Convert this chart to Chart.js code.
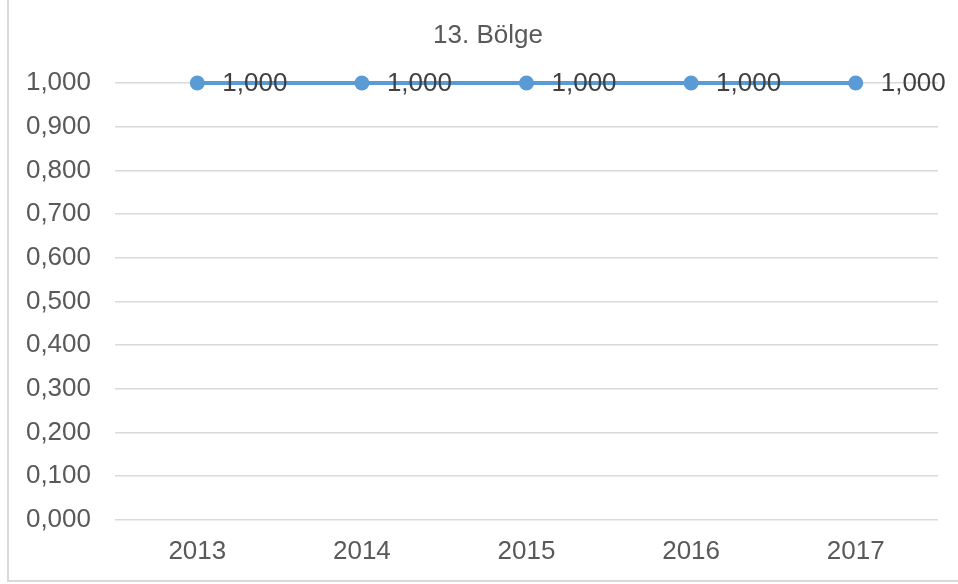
<!DOCTYPE html>
<html>
<head>
<meta charset="utf-8">
<script src="https://cdn.jsdelivr.net/npm/chart.js@4.4.1/dist/chart.umd.min.js"></script>
<style>
  html,body{margin:0;padding:0;background:#fff;}
  #wrap{position:relative;width:958px;height:584px;overflow:hidden;}
  #frame{position:absolute;left:7px;top:-3px;width:960px;height:585px;border:2px solid #d9d9d9;box-sizing:border-box;}
  #c{position:absolute;left:0;top:0;}
</style>
</head>
<body>
<div id="wrap">
  <div id="frame"></div>
  <canvas id="c" width="958" height="584"></canvas>
</div>
<script>
const years = ['2013','2014','2015','2016','2017'];
const values = [1.000, 1.000, 1.000, 1.000, 1.000];
const chartTitle = '13. Bölge';

const FONT = '"Liberation Sans", Arial, sans-serif';
function fmt(n){ return Number(n).toFixed(3).replace('.', ','); }

// title drawn a little right of canvas centre, like the original
const titleText = {
  id:'titleText',
  afterDraw(chart){
    const ctx = chart.ctx;
    ctx.save();
    ctx.font = '26px ' + FONT;
    ctx.fillStyle = '#595959';
    ctx.textAlign = 'center';
    ctx.textBaseline = 'middle';
    ctx.fillText(chartTitle, 488, 36);
    ctx.restore();
  }
};

// simple data labels to the right of each point
const pointLabels = {
  id:'pointLabels',
  afterDatasetsDraw(chart){
    const ctx = chart.ctx;
    const meta = chart.getDatasetMeta(0);
    ctx.save();
    ctx.font = '26px ' + FONT;
    ctx.fillStyle = '#404040';
    ctx.textAlign = 'left';
    ctx.textBaseline = 'middle';
    meta.data.forEach((pt, i) => {
      ctx.fillText(fmt(values[i]), pt.x + 25, pt.y + 1);
    });
    ctx.restore();
  }
};

new Chart(document.getElementById('c'), {
  type:'line',
  data:{ labels: years, datasets:[
    { label:'13. Bölge', data: values, borderColor:'#5b9bd5', backgroundColor:'#5b9bd5', borderWidth:4,
      pointRadius:7.5, pointHoverRadius:7.5, pointBorderWidth:0, tension:0, clip:false }
  ]},
  options:{
    responsive:false, animation:false,
    layout:{ padding:{ left:0, right:20, top:83, bottom:1 } },
    plugins:{
      legend:{ display:false },
      tooltip:{ enabled:false },
      title:{ display:false }
    },
    scales:{
      x:{
        offset:true,
        grid:{ display:false, drawTicks:false }, border:{ display:false },
        ticks:{ color:'#595959', padding:16, maxRotation:0, font:{ family:FONT, size:26 } }
      },
      y:{
        min:0, max:1,
        afterFit(s){ s.width = 115; },
        grid:{ color:'#d9d9d9', lineWidth:1.5, drawTicks:false }, border:{ display:false },
        ticks:{ stepSize:0.1, color:'#595959', padding:24, callback:v => fmt(v),
          font:{ family:FONT, size:26 } }
      }
    }
  },
  plugins:[pointLabels, titleText]
});
</script>
</body>
</html>
